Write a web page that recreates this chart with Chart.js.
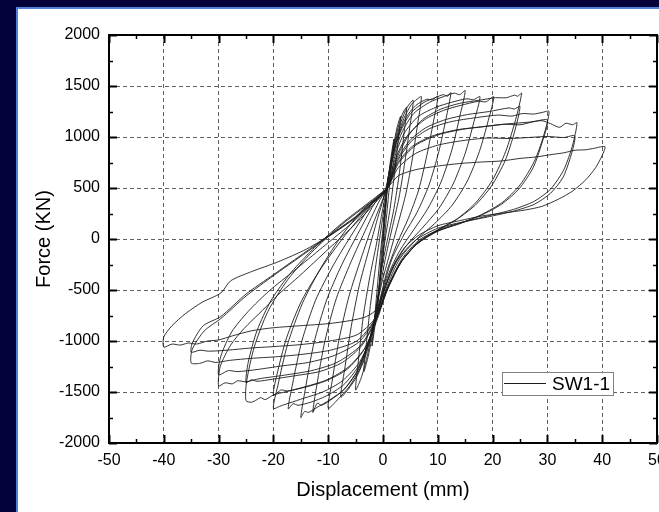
<!DOCTYPE html>
<html>
<head>
<meta charset="utf-8">
<script src="https://cdn.jsdelivr.net/npm/chart.js@4/dist/chart.umd.min.js"></script>
<style>
  html, body { margin: 0; padding: 0; }
  body { width: 659px; height: 512px; background: #03033a; position: relative; overflow: hidden; }
  #panel { position: absolute; left: 16px; top: 7px; right: 0; bottom: 0; background: #ffffff;
           border-left: 2px solid #4f82d6; border-top: 2px solid #4f82d6; }
  #c { position: absolute; left: 0; top: 0; }
</style>
</head>
<body>
<div id="panel"></div>
<canvas id="c" width="659" height="512"></canvas>
<script>
// ---- data: hysteresis loops [displacement (mm), force (kN)] ----
const seriesName = "SW1-1";
const xTitle = "Displacement (mm)";
const yTitle = "Force (KN)";

const loop01 = [[0,0],[0.3,200],[0.6,400],[1,620],[0.7,430],[0.3,150],[0,-50],[-0.4,-300],[-0.7,-480],[-1,-650],[-0.7,-450],[-0.3,-150],[0,50]];
const loop02 = [[0.3,250],[0.8,520],[1.4,780],[2,980],[1.6,760],[1,420],[0.4,80],[0,-150],[-0.6,-450],[-1.3,-780],[-2,-1050],[-1.6,-820],[-1,-450],[-0.4,-100],[0,100]];
const loop03 = [[0.4,330],[1,600],[1.8,880],[2.6,1100],[3.2,1200],[2.8,980],[2.1,640],[1.3,300],[0.4,0],[-0.3,-280],[-1,-580],[-1.8,-900],[-2.7,-1150],[-3.5,-1300],[-3.1,-1060],[-2.3,-650],[-1.3,-250],[-0.4,80],[0.2,300]];
const loop04 = [[0.8,520],[1.6,800],[2.6,1060],[3.5,1220],[4.3,1290],[3.8,1020],[3,650],[2,300],[1,40],[0,-220],[-0.8,-520],[-1.7,-830],[-2.8,-1130],[-3.9,-1350],[-5,-1480],[-4.5,-1200],[-3.6,-760],[-2.4,-370],[-1.2,-50],[-0.2,250],[0.5,450]];
const loop05 = [[1.2,680],[2.2,940],[3.3,1150],[4.4,1290],[5.5,1360],[4.9,1100],[4,760],[2.9,400],[1.6,90],[0.4,-200],[-0.7,-520],[-1.8,-860],[-3.2,-1150],[-4.8,-1350],[-6.3,-1470],[-7.7,-1550],[-7,-1280],[-5.8,-860],[-4.3,-450],[-2.6,-110],[-1,200],[0.2,420]];
const loop06 = [[1.4,720],[2.5,980],[3.8,1180],[5.2,1320],[6.2,1370],[7,1395],[6.3,1120],[5.4,800],[4.2,450],[2.8,160],[1.2,-150],[-0.3,-450],[-1.4,-740],[-2.6,-1020],[-4.2,-1270],[-6.2,-1450],[-8.2,-1570],[-10,-1660],[-9.3,-1400],[-8,-980],[-6.2,-560],[-4,-190],[-1.8,150],[0.5,470]];
const loop07 = [[1.3,700],[2.6,980],[4.2,1190],[6,1310],[8,1370],[9,1365],[10,1400],[9.2,1150],[8,820],[6.5,480],[4.6,200],[2.6,-40],[0.8,-300],[-0.4,-560],[-1.3,-740],[-2.8,-1040],[-4.8,-1300],[-7.2,-1480],[-9.6,-1580],[-11.2,-1630],[-12,-1610],[-12.8,-1700],[-12.1,-1440],[-10.6,-1000],[-8.5,-580],[-5.8,-220],[-3,110],[-0.5,390],[0.9,500]];
const loop08 = [[1.6,760],[3,1030],[5,1230],[7.5,1340],[9.5,1385],[11,1415],[11.8,1400],[12.4,1435],[11.5,1180],[10.2,860],[8.4,530],[6.2,260],[3.8,40],[1.6,-200],[0.2,-450],[-0.9,-680],[-2.4,-990],[-4.5,-1280],[-7,-1470],[-9.8,-1580],[-12,-1650],[-13.6,-1700],[-14.3,-1690],[-15,-1750],[-14.2,-1480],[-12.6,-1020],[-10.3,-600],[-7.5,-250],[-4.3,80],[-1.3,370],[0.7,490]];
const loop09 = [[1.8,780],[3.4,1040],[5.6,1230],[8.5,1340],[11,1395],[13,1430],[14,1415],[15,1455],[14,1200],[12.6,880],[10.6,560],[8.2,300],[5.6,90],[3,-120],[0.9,-360],[-0.6,-640],[-2.2,-950],[-4.4,-1240],[-7.2,-1430],[-10.4,-1540],[-13.2,-1600],[-15.5,-1630],[-16.4,-1615],[-17.3,-1665],[-16.5,-1420],[-14.8,-1000],[-12.3,-600],[-9.1,-260],[-5.5,60],[-1.9,350],[1.1,520]];
const loop10 = [[2,780],[3.8,1030],[6.4,1200],[9.6,1290],[12.5,1340],[15.3,1375],[16.5,1365],[17.7,1395],[16.6,1150],[15,840],[12.8,540],[10.2,300],[7.2,110],[4.2,-70],[1.6,-300],[-0.3,-590],[-1.8,-900],[-4.2,-1200],[-7.4,-1390],[-11,-1500],[-14.4,-1560],[-17.2,-1610],[-18.6,-1635],[-20,-1660],[-19.2,-1440],[-17.4,-1030],[-14.7,-630],[-11.3,-280],[-7.3,50],[-3.1,320],[0.4,460]];
const loop11 = [[2.2,780],[4.4,1010],[7.6,1170],[11,1260],[14.2,1310],[17.4,1350],[18.8,1345],[20.2,1395],[19.2,1160],[17.6,860],[15.4,570],[12.6,330],[9.4,150],[6,-10],[3,-200],[0.6,-480],[-1.2,-790],[-3.4,-1080],[-6.6,-1280],[-10.4,-1390],[-14,-1450],[-17.4,-1490],[-18.6,-1480],[-20,-1530],[-19.4,-1340],[-17.6,-970],[-14.8,-600],[-11.2,-280],[-7,30],[-2.6,310],[0.9,510]];
const loop12 = [[2.4,780],[4.6,1010],[7.2,1170],[10.4,1270],[14,1330],[17.5,1360],[20.5,1385],[22.5,1385],[24,1410],[24.6,1400],[25.3,1430],[24.2,1170],[22.4,860],[20,580],[17,360],[13.6,200],[10,90],[6.4,-30],[3.4,-220],[0.9,-480],[-1,-780],[-3.2,-1060],[-6.2,-1250],[-10.2,-1380],[-15,-1460],[-20,-1530],[-21.5,-1575],[-22.3,-1555],[-23,-1575],[-24,-1600],[-25,-1585],[-24.9,-1400],[-23.5,-1060],[-21,-710],[-17.4,-400],[-13,-130],[-8,120],[-3,330],[0.6,480]];
const loop13 = [[2.4,760],[4.8,960],[7.8,1090],[11.4,1170],[15.4,1220],[19.4,1250],[23,1285],[24,1275],[25,1300],[24,1050],[22.3,770],[19.8,520],[16.8,330],[13.4,190],[9.8,80],[6.4,-40],[3.4,-220],[0.8,-480],[-1.2,-780],[-3.8,-1040],[-7.4,-1210],[-11.6,-1300],[-16,-1340],[-20.2,-1375],[-23,-1395],[-24,-1380],[-25,-1410],[-24.6,-1210],[-23,-900],[-20.4,-600],[-16.8,-330],[-12.4,-80],[-7.6,150],[-2.8,350],[1,520]];
const loop14 = [[2.6,760],[5.2,960],[8.4,1080],[12.4,1150],[17,1190],[21,1215],[23.5,1205],[25.5,1230],[27.5,1225],[29,1240],[30.3,1250],[29.3,1010],[27.6,760],[25,530],[21.8,360],[18,240],[14,150],[10,80],[6.4,-40],[3.4,-220],[0.8,-500],[-1.4,-800],[-4.2,-1050],[-8.4,-1210],[-13,-1290],[-18,-1335],[-22.6,-1370],[-25,-1400],[-26.5,-1390],[-27.5,-1420],[-28.8,-1410],[-30,-1440],[-29.7,-1250],[-27.8,-1040],[-25.4,-880],[-22,-700],[-19.2,-550],[-15,-350],[-10,-100],[-5,150],[-1,380],[0.8,500]];
const loop15 = [[2.6,740],[5.4,910],[9,1010],[13.4,1070],[18,1100],[22,1125],[25,1120],[27.5,1150],[30,1165],[29,940],[27.4,700],[24.8,490],[21.6,340],[17.8,230],[13.8,150],[9.8,70],[6.2,-50],[3.2,-230],[0.8,-490],[-1.4,-790],[-4.4,-1010],[-8.8,-1140],[-13.6,-1210],[-18.6,-1245],[-23,-1280],[-26.6,-1300],[-28.2,-1290],[-30,-1330],[-29.6,-1150],[-27.6,-910],[-24.6,-710],[-20.8,-510],[-16.2,-310],[-11,-80],[-5.6,160],[-1.2,390],[0.5,470]];
const loop16 = [[2.8,740],[6,920],[10,1020],[14.5,1075],[19,1105],[23,1130],[26.5,1145],[29,1160],[30.6,1130],[32.2,1095],[33.4,1135],[34.6,1120],[35.4,1140],[34.6,920],[33,680],[30.6,490],[27.6,370],[23.8,290],[19.4,230],[15,170],[10.6,100],[6.6,-10],[3.4,-200],[0.6,-500],[-1.6,-800],[-4.8,-1000],[-9.6,-1090],[-14.6,-1130],[-19.6,-1155],[-24,-1170],[-28,-1190],[-30.5,-1210],[-32,-1195],[-33.5,-1220],[-35,-1215],[-34.8,-1080],[-32.6,-900],[-29.6,-780],[-25,-560],[-20,-360],[-15,-170],[-10,20],[-5,210],[-1,410],[0.9,510]];
const loop17 = [[2.8,700],[6,840],[10,920],[14.6,965],[19,990],[23,985],[26.6,995],[30,1005],[33,995],[35,1010],[34.2,800],[32.8,600],[30.6,450],[27.6,340],[23.6,270],[19,215],[14.4,165],[10,105],[6,-10],[2.6,-210],[0.2,-500],[-1.5,-780],[-4.8,-940],[-9.8,-1000],[-15,-1035],[-20,-1055],[-24.4,-1070],[-28.4,-1090],[-31.8,-1100],[-33.4,-1090],[-35,-1110],[-34.8,-1020],[-32.8,-850],[-29.6,-760],[-25,-540],[-20,-350],[-15,-160],[-10,30],[-5,220],[-1,420],[0.8,500]];
const loop18 = [[2.8,620],[6,680],[10,715],[14,740],[18,755],[21.6,765],[25,790],[28,805],[31,830],[33,845],[35,870],[37,875],[38.6,890],[40.5,905],[40,820],[38.8,700],[37,580],[34.6,470],[32,390],[29,320],[26,285],[22,255],[18,225],[14,180],[10,130],[6.6,40],[4,-80],[2,-250],[0.4,-470],[-1,-680],[-3,-760],[-6,-800],[-10,-830],[-15,-850],[-20,-870],[-24,-900],[-27.5,-950],[-30,-990],[-32,-1000],[-34,-1030],[-35.5,-1020],[-37,-1040],[-38.5,-1030],[-40,-1060],[-40,-960],[-38.5,-850],[-36,-730],[-33,-620],[-29.6,-530],[-27.8,-410],[-24,-320],[-19.2,-225],[-14,-100],[-9,60],[-4.5,230],[-1,400],[0.6,470]];

const loops = [loop01,loop02,loop03,loop04,loop05,loop06,loop07,loop08,loop09,loop10,loop11,loop12,loop13,loop14,loop15,loop16,loop17,loop18];
const points = loops.flat().map(p => ({x: p[0], y: p[1]}));

const FONT = "'Liberation Sans', Arial, sans-serif";

const decorPlugin = {
  id: 'decor',
  afterDraw(chart) {
    const {ctx, chartArea: a, scales: {x, y}} = chart;
    ctx.save();
    ctx.strokeStyle = '#000';
    // inward ticks
    for (let v = -50; v <= 50; v += 5) {
      const px = Math.round(x.getPixelForValue(v)) + 0.5;
      const major = v % 10 === 0;
      const len = major ? 8 : 4;
      ctx.lineWidth = major ? 2 : 1.5;
      ctx.beginPath();
      ctx.moveTo(px, a.bottom); ctx.lineTo(px, a.bottom - len);
      ctx.moveTo(px, a.top); ctx.lineTo(px, a.top + len);
      ctx.stroke();
    }
    for (let v = -2000; v <= 2000; v += 250) {
      const py = Math.round(y.getPixelForValue(v)) + 0.5;
      const major = v % 500 === 0;
      const len = major ? 8 : 4;
      ctx.lineWidth = major ? 2 : 1.5;
      ctx.beginPath();
      ctx.moveTo(a.left, py); ctx.lineTo(a.left + len, py);
      ctx.moveTo(a.right, py); ctx.lineTo(a.right - len, py);
      ctx.stroke();
    }
    // frame
    ctx.lineWidth = 2;
    ctx.strokeRect(a.left, a.top, a.right - a.left, a.bottom - a.top);
    // legend box
    const lx = 502.5, ly = 372.5, lw = 111, lh = 23;
    ctx.fillStyle = '#fff';
    ctx.fillRect(lx, ly, lw, lh);
    ctx.lineWidth = 1;
    ctx.strokeStyle = '#808080';
    ctx.strokeRect(lx, ly, lw, lh);
    const ds = chart.data.datasets[0];
    ctx.strokeStyle = ds.borderColor;
    ctx.lineWidth = 1;
    ctx.beginPath();
    ctx.moveTo(504, 383.5); ctx.lineTo(546, 383.5);
    ctx.stroke();
    ctx.fillStyle = '#000';
    ctx.font = '19px ' + FONT;
    ctx.textBaseline = 'middle';
    ctx.textAlign = 'left';
    ctx.fillText(ds.label, 552, 385);
    ctx.restore();
  }
};

new Chart(document.getElementById('c'), {
  type: 'scatter',
  data: {
    datasets: [{
      label: seriesName,
      data: points,
      showLine: true,
      borderColor: '#1c1c1c',
      borderWidth: 0.9,
      pointRadius: 0,
      tension: 0.25,
      fill: false
    }]
  },
  options: {
    responsive: false,
    animation: false,
    devicePixelRatio: 1,
    layout: { padding: { top: 35, right: 2, left: 0, bottom: 0 } },
    plugins: { legend: { display: false }, tooltip: { enabled: false } },
    scales: {
      x: {
        type: 'linear', position: 'bottom', min: -50, max: 50,
        afterFit(s) { s.height = 69; s.paddingLeft = 0; s.paddingRight = 0; },
        ticks: { stepSize: 10, color: '#000', padding: 8, maxRotation: 0, autoSkip: false,
                 font: { family: FONT, size: 16 }, callback: v => String(v) },
        grid: { color: '#606060', lineWidth: 1, drawTicks: false },
        border: { display: false, dash: [4, 3] },
        title: { display: true, text: xTitle, color: '#000', font: { family: FONT, size: 20 },
                 padding: { top: 0, bottom: 10 } }
      },
      y: {
        type: 'linear', position: 'left', min: -2000, max: 2000,
        afterFit(s) { s.width = 109; s.paddingTop = 0; s.paddingBottom = 0; },
        ticks: { stepSize: 500, color: '#000', padding: 9, autoSkip: false,
                 font: { family: FONT, size: 16 }, callback: v => String(v) },
        grid: { color: '#606060', lineWidth: 1, drawTicks: false },
        border: { display: false, dash: [4, 3] },
        title: { display: true, text: yTitle, color: '#000', font: { family: FONT, size: 20 },
                 padding: { top: 32, bottom: 0 } }
      }
    }
  },
  plugins: [decorPlugin]
});
</script>
</body>
</html>
